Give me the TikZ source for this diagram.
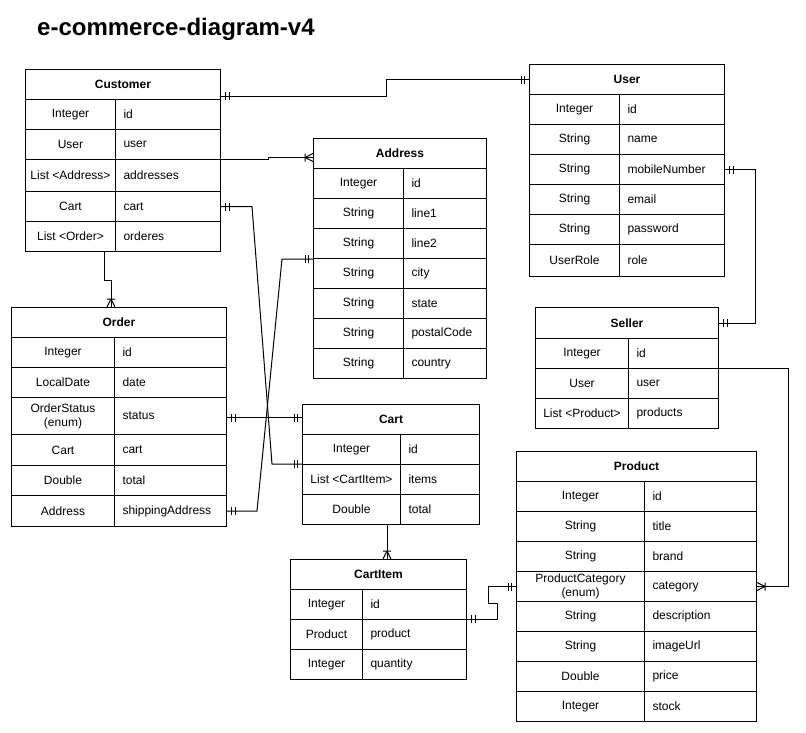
\documentclass[tikz,border=0pt]{standalone}
\usepackage{fontspec}
\setmainfont{Liberation Sans}
\usetikzlibrary{decorations.markings,calc}
\newcommand\fs{\fontsize{12}{14}\selectfont}
\tikzset{
  cell/.style={draw, line width=1pt, anchor=north west, inner sep=0pt, font=\fs},
  hd/.style={cell, font=\fs\bfseries, align=center},
  lc/.style={cell, align=center},
  rc/.style={cell, inner xsep=8pt, align=left},
  conn/.style={draw, line width=1pt},
  dbS/.style={postaction={decorate,decoration={markings,
    mark=at position 4.5pt with {\draw[line width=1pt] (0pt,-4pt)--(0pt,4pt);},
    mark=at position 8pt with {\draw[line width=1pt] (0pt,-4pt)--(0pt,4pt);}}}},
  dbE/.style={postaction={decorate,decoration={markings,
    mark=at position -4.5pt with {\draw[line width=1pt] (0pt,-4pt)--(0pt,4pt);},
    mark=at position -8pt with {\draw[line width=1pt] (0pt,-4pt)--(0pt,4pt);}}}},
  cfE/.style={postaction={decorate,decoration={markings,
    mark=at position -8pt with {\draw[line width=1pt] (0pt,-4pt)--(0pt,4pt) (0pt,0pt)--(8pt,4pt) (0pt,0pt)--(8pt,-4pt);}}}},
  titlestyle/.style={anchor=base west, inner sep=0pt, font=\fontsize{24}{28}\selectfont\bfseries}
}
% name, xleft, ytop, xsplit, xright, height, left text, right text
\newcommand\erow[8]{%
  \pgfmathsetmacro\wl{#4-#2}\pgfmathsetmacro\wr{#5-#4}\pgfmathsetmacro\tw{#5-#4-16}%
  \node[lc, minimum width=\wl pt, minimum height=#6pt] (#1l) at (#2,#3) {#7};
  \node[rc, minimum width=\wr pt, text width=\tw pt, minimum height=#6pt] (#1) at (#4,#3) {#8};
}
% name, xleft, ytop, xright, height, text
\newcommand\ehead[6]{%
  \pgfmathsetmacro\wh{#4-#2}%
  \node[hd, minimum width=\wh pt, minimum height=#5pt] (#1) at (#2,#3) {#6};
}
\begin{document}
\begin{tikzpicture}[x=1pt,y=-1pt]
\useasboundingbox[fill=white] (0,0) rectangle (806,732);
\node[titlestyle] (title) at (37,35) {e-commerce-diagram-v4};

% Customer
\ehead{cuh}{25}{69}{220}{30}{Customer}
\erow{cu1}{25}{99}{115}{220}{30}{Integer}{id}
\erow{cu2}{25}{129}{115}{220}{30}{User}{user}
\erow{cu3}{25}{159}{115}{220}{32}{List <Address>}{addresses}
\erow{cu4}{25}{191}{115}{220}{30}{Cart}{cart}
\erow{cu5}{25}{221}{115}{220}{30}{List <Order>}{orderes}

% User
\ehead{ush}{529}{64}{724}{30}{User}
\erow{us1}{529}{94}{619}{724}{30}{Integer}{id}
\erow{us2}{529}{124}{619}{724}{30}{String}{name}
\erow{us3}{529}{154}{619}{724}{30}{String}{mobileNumber}
\erow{us4}{529}{184}{619}{724}{30}{String}{email}
\erow{us5}{529}{214}{619}{724}{30}{String}{password}
\erow{us6}{529}{244}{619}{724}{32}{UserRole}{role}

% Address
\ehead{adh}{313}{138}{486}{30}{Address}
\erow{ad1}{313}{168}{403}{486}{30}{Integer}{id}
\erow{ad2}{313}{198}{403}{486}{30}{String}{line1}
\erow{ad3}{313}{228}{403}{486}{30}{String}{line2}
\erow{ad4}{313}{258}{403}{486}{30}{String}{city}
\erow{ad5}{313}{288}{403}{486}{30}{String}{state}
\erow{ad6}{313}{318}{403}{486}{30}{String}{postalCode}
\erow{ad7}{313}{348}{403}{486}{30}{String}{country}

% Order
\ehead{orh}{11}{307}{226}{30}{Order}
\erow{or1}{11}{337}{114}{226}{30}{Integer}{id}
\erow{or2}{11}{367}{114}{226}{30}{LocalDate}{date}
\erow{or3}{11}{397}{114}{226}{37}{OrderStatus\\(enum)}{status}
\erow{or4}{11}{434}{114}{226}{31}{Cart}{cart}
\erow{or5}{11}{465}{114}{226}{30}{Double}{total}
\erow{or6}{11}{495}{114}{226}{31}{Address}{shippingAddress}

% Seller
\ehead{seh}{535}{307}{718}{31}{Seller}
\erow{se1}{535}{338}{628}{718}{30}{Integer}{id}
\erow{se2}{535}{368}{628}{718}{30}{User}{user}
\erow{se3}{535}{398}{628}{718}{30}{List <Product>}{products}

% Cart
\ehead{cah}{302}{404}{479}{30}{Cart}
\erow{ca1}{302}{434}{400}{479}{30}{Integer}{id}
\erow{ca2}{302}{464}{400}{479}{30}{List <CartItem>}{items}
\erow{ca3}{302}{494}{400}{479}{30}{Double}{total}

% CartItem
\ehead{cih}{290}{559}{466}{30}{CartItem}
\erow{ci1}{290}{589}{362}{466}{30}{Integer}{id}
\erow{ci2}{290}{619}{362}{466}{30}{Product}{product}
\erow{ci3}{290}{649}{362}{466}{30}{Integer}{quantity}

% Product
\ehead{prh}{516}{451}{756}{30}{Product}
\erow{pr1}{516}{481}{644}{756}{30}{Integer}{id}
\erow{pr2}{516}{511}{644}{756}{30}{String}{title}
\erow{pr3}{516}{541}{644}{756}{30}{String}{brand}
\erow{pr4}{516}{571}{644}{756}{30}{ProductCategory\\(enum)}{category}
\erow{pr5}{516}{601}{644}{756}{30}{String}{description}
\erow{pr6}{516}{631}{644}{756}{30}{String}{imageUrl}
\erow{pr7}{516}{661}{644}{756}{30}{Double}{price}
\erow{pr8}{516}{691}{644}{756}{30}{Integer}{stock}

% Connectors
\path[conn,dbS,dbE] ([yshift=4pt]cuh.south east) -- ++(165,0) |- (ush.west);
\path[conn,cfE] (cu3.north east) -- ++(47,0) |- ([yshift=-4pt]adh.west);
\path[conn,dbS,dbE] (cu4.east) -- ++(31,0) -- ([xshift=-30pt]ca2l.north west) -- (ca2l.north west);
\path[conn,dbS,dbE] (ad3l.south west) -- ++(-31,0) -- ([xshift=30pt]or6.east) -- (or6.east);
\path[conn,dbS,dbE] ([yshift=-1.5pt]or3.east) -- ([yshift=-1.5pt]or3.east -| cah.west);
\path[conn,cfE] ([xshift=-12pt]cu5l.south east) -- ++(0,28) -| ([xshift=100pt]orh.north west);
\path[conn,dbS,dbE] (us3.east) -- ++(30,0) |- (seh.east);
\path[conn,cfE] (se2.north east) -- ++(69,0) |- (pr4.east);
\path[conn,cfE] ([xshift=-14pt]ca3l.south east) -- ([xshift=-14pt]ca3l.south east |- cih.north);
\path[conn,dbS,dbE] (ci2.north east) -- ++(30,0) -- ++(0,-16) -- ++(-9,0) |- (pr4l.west);
\end{tikzpicture}
\end{document}
